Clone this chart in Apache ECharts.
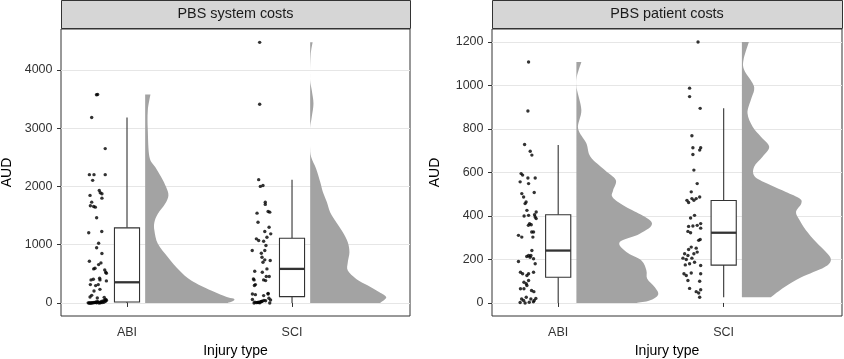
<!DOCTYPE html>
<html>
<head>
<meta charset="utf-8">
<script src="https://cdn.jsdelivr.net/npm/echarts@6/dist/echarts.min.js"></script>
<style>
  html, body { margin: 0; padding: 0; background: #fff; }
  #chart { width: 844px; height: 359px; }
</style>
</head>
<body>
<div id="chart"></div>
<script>
// categories / panels
const categories = ["ABI", "SCI"];
const panelTitles = ["PBS system costs", "PBS patient costs"];
const sysTicks = [0, 1000, 2000, 3000, 4000];
const patTicks = [0, 200, 400, 600, 800, 1000, 1200];

// jittered points: values + x offset from the category centre
const abiSysY = [3580, 3575, 3184, 2650, 2203, 2203, 2203, 2105, 1933, 1893, 1876, 1800, 1847, 1731, 1669,
  1657, 1645, 1463, 1205, 1227, 1026, 947, 848, 716, 688, 659, 595, 585, 568, 527, 510, 396, 406, 423, 396,
  379, 315, 298, 315, 206, 234, 103, 131, 86, 96,
  0, 0, 5, 10, 15, 20, 0, 3, 8, 12, 30, 45, 2, 0, 6, 18, 25, 50, 0, 1, 4, 9, 35, 60, 14];
const abiSysX = [-0.178, -0.185, -0.214, -0.132, -0.228, -0.2, -0.132, -0.208, -0.168, -0.162, -0.152, -0.152, -0.224, -0.214, -0.222,
  -0.202, -0.192, -0.184, -0.232, -0.153, -0.172, -0.184, -0.152, -0.228, -0.158, -0.172, -0.194, -0.202, -0.135, -0.129, -0.125, -0.218, -0.204, -0.166, -0.164,
  -0.125, -0.222, -0.19, -0.174, -0.2, -0.164, -0.224, -0.214, -0.18, -0.138,
  -0.23, -0.22, -0.21, -0.2, -0.19, -0.18, -0.17, -0.16, -0.15, -0.14, -0.13, -0.125, -0.235, -0.215, -0.195, -0.175, -0.155, -0.135, -0.225, -0.205, -0.185, -0.165, -0.145, -0.128, -0.188];

const sciSysY = [4475, 3413, 2117, 2001, 2018, 1731, 1692, 1542, 1571, 1559, 1387, 1301, 1227, 1187, 1101,
  1072, 1060, 1129, 900, 986, 900, 854, 785, 740, 728, 699, 585, 544, 527, 396, 453, 396, 315, 155, 143, 155, 126,
  413, 384, 453, 300, 165,
  0, 5, 12, 20, 30, 45, 60, 80, 0, 8, 15, 25, 38, 2, 50, 10];
const sciSysX = [-0.196, -0.196, -0.202, -0.192, -0.176, -0.162, -0.162, -0.212, -0.145, -0.135, -0.206, -0.139, -0.165, -0.129, -0.216,
  -0.202, -0.172, -0.152, -0.241, -0.158, -0.165, -0.186, -0.182, -0.165, -0.132, -0.176, -0.152, -0.226, -0.18, -0.172, -0.156, -0.23, -0.222, -0.24, -0.222, -0.145, -0.172,
  -0.234, -0.16, -0.138, -0.228, -0.145,
  -0.23, -0.215, -0.2, -0.19, -0.18, -0.17, -0.24, -0.14, -0.135, -0.205, -0.225, -0.185, -0.16, -0.195, -0.13, -0.21];

const abiPatY = [1108, 883, 729, 698, 680, 595, 588, 575, 575, 549, 557, 508, 503, 487, 464, 457, 426, 418, 406, 395,
  388, 400, 403, 365, 360, 326, 326, 303, 311, 303, 357, 241, 218, 210, 203, 214, 218, 191, 180, 141,
  134, 134, 126, 141, 95, 88, 103, 65, 65, 80, 57, 52, 18, 11, 26, 18, 11, 21, 0, 3, 5, 2];
const abiPatX = [-0.179, -0.183, -0.203, -0.169, -0.159, -0.224, -0.215, -0.183, -0.139, -0.179, -0.23, -0.145, -0.22, -0.209, -0.194, -0.2, -0.189, -0.133, -0.143, -0.139,
  -0.133, -0.206, -0.179, -0.173, -0.163, -0.149, -0.16, -0.153, -0.24, -0.22, -0.18, -0.159, -0.179, -0.17, -0.149, -0.19, -0.165, -0.24, -0.139, -0.228,
  -0.215, -0.179, -0.189, -0.149, -0.207, -0.193, -0.179, -0.228, -0.207, -0.189, -0.161, -0.147, -0.221, -0.209, -0.193, -0.165, -0.145, -0.135, -0.2, -0.175, -0.15, -0.23];

const sciPatY = [1200, 988, 949, 895, 769, 714, 703, 714, 683, 611, 549, 511, 472, 462, 480, 472, 480, 487, 403, 391,
  352, 354, 357, 365, 344, 329, 323, 288, 292, 257, 252, 246, 226, 218, 226, 234, 206, 200, 206, 187,
  175, 180, 172, 134, 126, 138, 134, 103, 100, 67, 61, 52, 46, 26];
const sciPatX = [-0.155, -0.206, -0.206, -0.142, -0.192, -0.186, -0.145, -0.139, -0.186, -0.18, -0.16, -0.196, -0.222, -0.212, -0.192, -0.18, -0.166, -0.145, -0.176, -0.2,
  -0.212, -0.186, -0.16, -0.139, -0.139, -0.216, -0.2, -0.151, -0.142, -0.196, -0.166, -0.212, -0.236, -0.216, -0.18, -0.16, -0.246, -0.226, -0.192, -0.176,
  -0.232, -0.206, -0.139, -0.24, -0.226, -0.196, -0.139, -0.216, -0.145, -0.206, -0.139, -0.166, -0.151, -0.145];

// boxplot stats: [lower whisker, q1, median, q3, upper whisker]
const sysBoxes = [[0, 17, 355, 1290, 3184], [0, 108, 585, 1112, 2117]];
const patBoxes = [[0, 118, 241, 406, 726], [26, 174, 323, 471, 895]];

// half-violin density: [value, half width in x-axis units]
const abiSysDensity = [[0, 0.50], [28, 0.53], [69, 0.54], [96, 0.50], [212, 0.40], [384, 0.279], [556, 0.208], [785, 0.138],
  [1015, 0.077], [1244, 0.056], [1387, 0.056], [1532, 0.077], [1704, 0.121], [1847, 0.141], [1990, 0.127], [2162, 0.097],
  [2334, 0.061], [2506, 0.026], [2964, 0.016], [3300, 0.016], [3580, 0.032]];
const sciSysDensity = [[0, 0.42], [10, 0.43], [96, 0.461], [182, 0.42], [298, 0.35], [413, 0.279], [556, 0.228], [699, 0.228],
  [871, 0.238], [1043, 0.228], [1215, 0.198], [1387, 0.158], [1559, 0.121], [1732, 0.101], [1904, 0.077], [2076, 0.061],
  [2306, 0.036], [2506, 0.006], [2700, 0], [3000, 0], [3200, 0.01], [3425, 0.02], [3650, 0.01], [3850, 0], [4250, 0.003], [4475, 0.015]];
const abiPatDensity = [[0, 0.363], [11, 0.442], [38, 0.494], [72, 0.474], [111, 0.428], [149, 0.423], [195, 0.393], [234, 0.302],
  [280, 0.262], [318, 0.383], [372, 0.454], [449, 0.282], [487, 0.218], [518, 0.222], [565, 0.238], [611, 0.171],
  [672, 0.085], [734, 0.06], [803, 0.01], [888, 0.03], [988, 0.002], [1041, 0.003], [1108, 0.03]];
const sciPatDensity = [[26, 0.175], [72, 0.256], [118, 0.359], [164, 0.498], [198, 0.538], [234, 0.508], [280, 0.448], [334, 0.387],
  [380, 0.349], [418, 0.327], [457, 0.359], [480, 0.349], [510, 0.266], [541, 0.175], [580, 0.079], [626, 0.074],
  [672, 0.125], [718, 0.165], [764, 0.115], [810, 0.065], [872, 0.034], [934, 0.054], [980, 0.074], [1011, 0.065],
  [1072, 0.014], [1118, 0.01], [1200, 0.042]];

const FONT = "Liberation Sans, Arial, Helvetica, sans-serif";
const VIOLIN_OFFSET = 0.11;
const BOX_HALF = 0.076;
const INK = "#333333";

const chart = echarts.init(document.getElementById("chart"));

const panels = [
  { left: 61, width: 349, yMin: -224, yMax: 4704, ticks: sysTicks, boxes: sysBoxes, yGap: 47,
    points: [[abiSysX, abiSysY], [sciSysX, sciSysY]], density: [abiSysDensity, sciSysDensity] },
  { left: 492, width: 350, yMin: -60, yMax: 1260, ticks: patTicks, boxes: patBoxes, yGap: 50,
    points: [[abiPatX, abiPatY], [sciPatX, sciPatY]], density: [abiPatDensity, sciPatDensity] },
];

const gridTop = 29, gridH = 287;

// outer edge of a half violin as a smooth (catmull-rom) path, flat along its base
function violinPath(pts, baseX) {
  const f = n => n.toFixed(2);
  let d = "M" + f(baseX) + "," + f(pts[0][1]) + " L" + f(pts[0][0]) + "," + f(pts[0][1]);
  for (let i = 0; i < pts.length - 1; i++) {
    const p0 = pts[Math.max(i - 1, 0)], p1 = pts[i], p2 = pts[i + 1], p3 = pts[Math.min(i + 2, pts.length - 1)];
    const c1x = Math.max(baseX, p1[0] + (p2[0] - p0[0]) / 6), c1y = p1[1] + (p2[1] - p0[1]) / 6;
    const c2x = Math.max(baseX, p2[0] - (p3[0] - p1[0]) / 6), c2y = p2[1] - (p3[1] - p1[1]) / 6;
    d += " C" + f(c1x) + "," + f(c1y) + " " + f(c2x) + "," + f(c2y) + " " + f(p2[0]) + "," + f(p2[1]);
  }
  d += " L" + f(baseX) + "," + f(pts[pts.length - 1][1]) + " Z";
  return d;
}

const grids = panels.map(p => ({
  left: p.left, top: gridTop, width: p.width, height: gridH,
  outerBoundsMode: "none", containLabel: false,
  show: true, borderColor: INK, borderWidth: 1, backgroundColor: "#fff",
}));

const xAxes = panels.map((p, i) => ({
  type: "value", gridIndex: i, min: 0.6, max: 2.715,
  name: "Injury type", nameLocation: "middle", nameGap: 27,
  nameTextStyle: { fontSize: 14, color: "#000", fontFamily: FONT },
  axisLine: { show: false },
  splitLine: { show: false },
  axisTick: { show: true, customValues: [1, 2], length: 4, lineStyle: { color: INK } },
  axisLabel: { customValues: [1, 2], formatter: v => categories[v - 1], fontSize: 12.5, color: "#333", margin: 10, fontFamily: FONT },
}));

const yAxes = panels.map((p, i) => ({
  type: "value", gridIndex: i, min: p.yMin, max: p.yMax,
  name: "AUD", nameLocation: "middle", nameRotate: 90, nameGap: p.yGap,
  nameTextStyle: { fontSize: 14, color: "#000", fontFamily: FONT },
  axisLine: { show: false },
  axisTick: { show: true, customValues: p.ticks, length: 4, lineStyle: { color: INK } },
  axisLabel: { customValues: p.ticks, formatter: v => String(v), fontSize: 12.5, color: "#333", margin: 8.5, fontFamily: FONT },
  splitLine: { show: true, lineStyle: { color: "#e6e6e6", width: 1 } },
}));

const series = [];
panels.forEach((p, gi) => {
  // half violins
  series.push({
    type: "custom", xAxisIndex: gi, yAxisIndex: gi, silent: true,
    data: p.density.map((d, ci) => [ci + 1 + VIOLIN_OFFSET, d[0][0]]),
    renderItem: (params, api) => {
      const prof = p.density[params.dataIndex];
      const base = params.dataIndex + 1 + VIOLIN_OFFSET;
      const pts = prof.map(([v, w]) => api.coord([base + w, v]));
      const baseX = api.coord([base, prof[0][0]])[0];
      return {
        type: "path",
        shape: { pathData: violinPath(pts, baseX) },
        style: { fill: "#a3a3a3", stroke: null },
      };
    },
  });
  // boxplots
  series.push({
    type: "custom", xAxisIndex: gi, yAxisIndex: gi, silent: true,
    data: p.boxes.map((b, ci) => [ci + 1].concat(b)),
    renderItem: (params, api) => {
      const x = api.value(0);
      const lo = api.value(1), q1 = api.value(2), med = api.value(3), q3 = api.value(4), hi = api.value(5);
      const pLo = api.coord([x, lo]), pQ1 = api.coord([x, q1]);
      const pQ3 = api.coord([x, q3]), pHi = api.coord([x, hi]);
      const tl = api.coord([x - BOX_HALF, q3]), br = api.coord([x + BOX_HALF, q1]);
      const mL = api.coord([x - BOX_HALF, med]), mR = api.coord([x + BOX_HALF, med]);
      const line = { stroke: INK, lineWidth: 1.1 };
      return {
        type: "group",
        children: [
          { type: "line", shape: { x1: pHi[0], y1: pHi[1], x2: pQ3[0], y2: pQ3[1] }, style: line },
          { type: "line", shape: { x1: pQ1[0], y1: pQ1[1], x2: pLo[0], y2: pLo[1] }, style: line },
          { type: "rect", shape: { x: tl[0], y: tl[1], width: br[0] - tl[0], height: br[1] - tl[1] },
            style: { fill: "#fff", stroke: INK, lineWidth: 1.1 } },
          { type: "line", shape: { x1: mL[0], y1: mL[1], x2: mR[0], y2: mR[1] }, style: { stroke: INK, lineWidth: 2.3 } },
        ],
      };
    },
  });
  // jittered points
  p.points.forEach(([xs, ys], ci) => {
    series.push({
      type: "scatter", xAxisIndex: gi, yAxisIndex: gi, silent: true,
      symbolSize: 3.4,
      itemStyle: { color: "#000" },
      data: ys.map((v, k) => [ci + 1 + xs[k], v]),
    });
  });
});

const graphic = [];
panels.forEach((p, i) => {
  graphic.push({
    type: "rect", z: 10,
    shape: { x: p.left + 0.5, y: 0.5, width: p.width, height: gridTop - 1 },
    style: { fill: "#d6d6d6", stroke: INK, lineWidth: 1 },
  });
  graphic.push({
    type: "text", z: 11,
    x: p.left + p.width / 2, y: 14.5,
    style: { text: panelTitles[i], align: "center", verticalAlign: "middle", fontSize: 14.4, fill: "#1a1a1a", fontFamily: FONT },
  });
});

const option = {
  animation: false,
  textStyle: { fontFamily: FONT },
  grid: grids,
  xAxis: xAxes,
  yAxis: yAxes,
  series: series,
  graphic: graphic,
};

chart.setOption(option);
</script>
</body>
</html>
